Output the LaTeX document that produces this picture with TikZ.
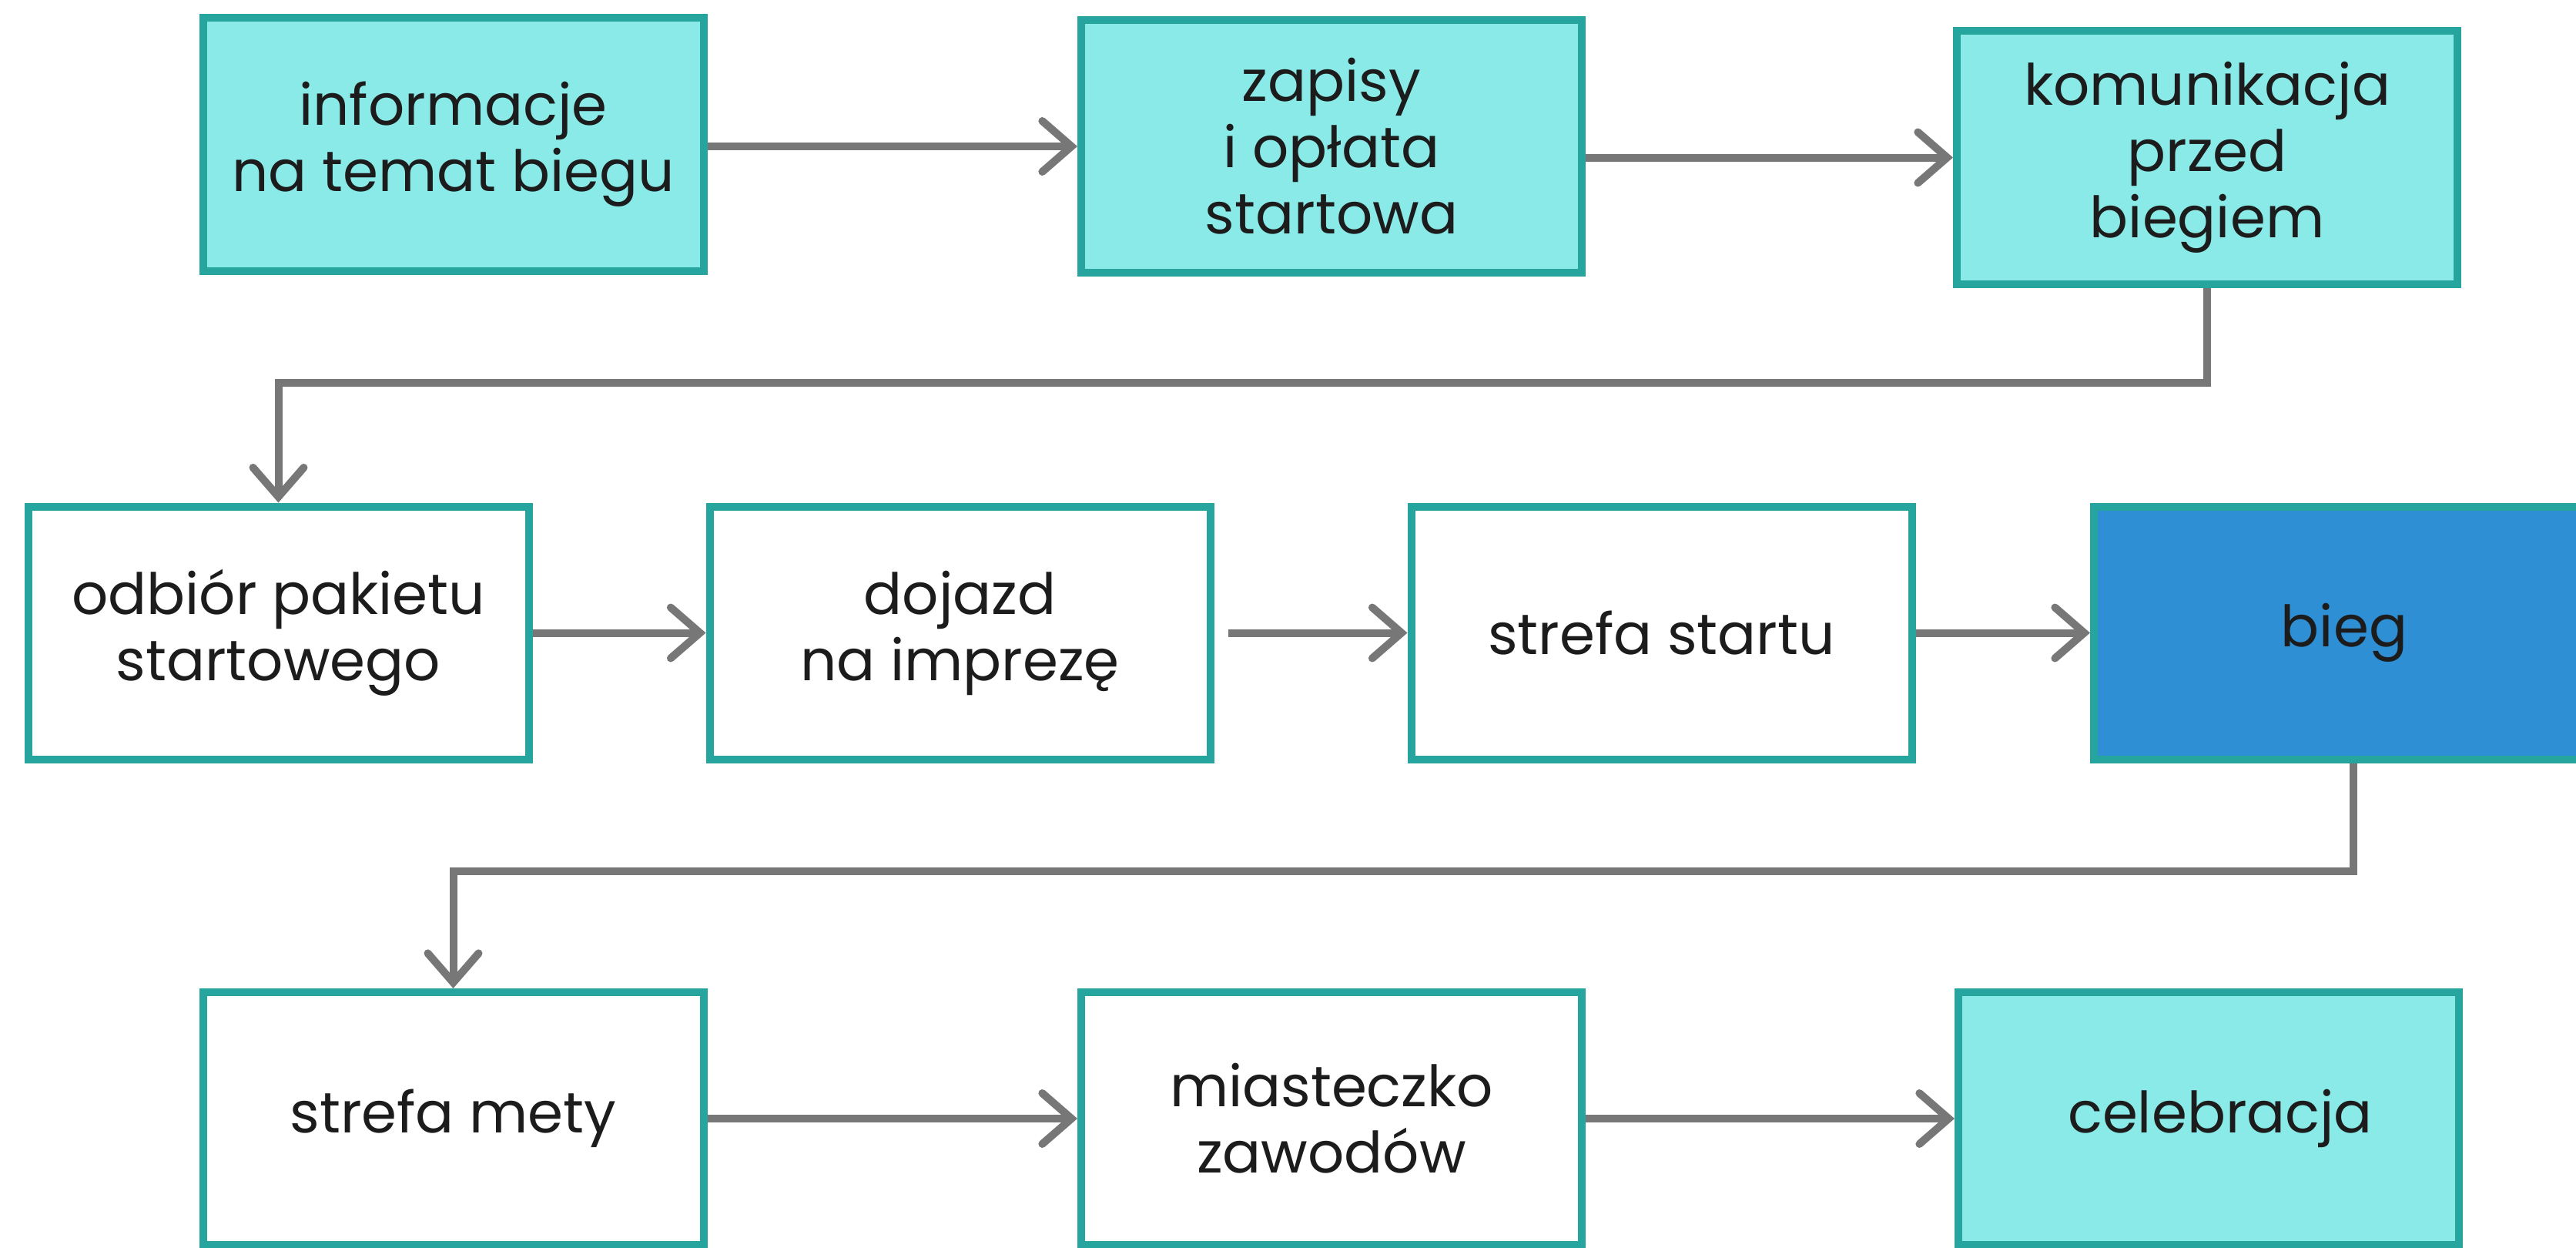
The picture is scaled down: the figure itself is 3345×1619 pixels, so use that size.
\documentclass[tikz,border=0pt]{standalone}
\usepackage{fontspec}
\setmainfont{Poppins}
\usetikzlibrary{arrows.meta}
\definecolor{cyanfill}{HTML}{8AEAE8}
\definecolor{tealborder}{HTML}{26A59F}
\definecolor{bluefill}{HTML}{2E8FD4}
\definecolor{arrowgray}{HTML}{777777}
\definecolor{txt}{HTML}{1C1C1C}
\begin{document}
\begin{tikzpicture}[x=1pt,y=-1pt,
  box/.style={draw=tealborder, line width=10pt, minimum width=650pt, minimum height=328pt,
    align=center, text=txt, inner sep=0pt,
    font=\fontsize{74}{86}\selectfont},
  cyanbox/.style={box, fill=cyanfill},
  whitebox/.style={box, fill=white},
  bluebox/.style={box, fill=bluefill},
  arr/.style={draw=arrowgray, line width=10pt,
    -{Straight Barb[length=38pt,width=66pt,line cap=round]}}
]
\useasboundingbox (0,0) rectangle (3345,1619);
\fill[white] (0,0) rectangle (3345,1619);

\node[cyanbox]  (b1)  at (588.5,187.5) {informacje\\na temat biegu};
\node[cyanbox]  (b2)  at (1729,190)    {zapisy\\i opłata\\startowa};
\node[cyanbox]  (b3)  at (2866,204.5)  {komunikacja\\przed\\biegiem};

\node[whitebox] (b4)  at (361.5,821.5)  {odbiór pakietu\\startowego};
\node[whitebox] (b5)  at (1246.5,821.5) {dojazd\\na imprezę};
\node[whitebox] (b6)  at (2157.5,821.5) {strefa startu};
\node[bluebox]  (b7)  at (3044,821.5)   {bieg};

\node[whitebox] (b8)  at (588.5,1452) {strefa mety};
\node[whitebox] (b9)  at (1729,1452)  {miasteczko\\zawodów};
\node[cyanbox]  (b10) at (2868,1452)  {\hspace*{30pt}celebracja};

\coordinate (j1) at (2866,497);
\coordinate (j2) at (3056,1131);

\draw[arr] (b1.east |- b2.west) -- (b2.west);
\draw[arr] (b2.east |- b3.west) -- (b3.west);
\draw[arr] (b3.south) -- (j1) -| (b4.north);

\draw[arr] (b4.east) -- (b5.west);
\draw[arr, shorten <=18pt] (b5.east) -- (b6.west);
\draw[arr] (b6.east) -- (b7.west);
\draw[arr] (j2 |- b7.south) -- (j2) -| (b8.north);

\draw[arr] (b8.east) -- (b9.west);
\draw[arr] (b9.east) -- (b10.west);
\end{tikzpicture}
\end{document}
